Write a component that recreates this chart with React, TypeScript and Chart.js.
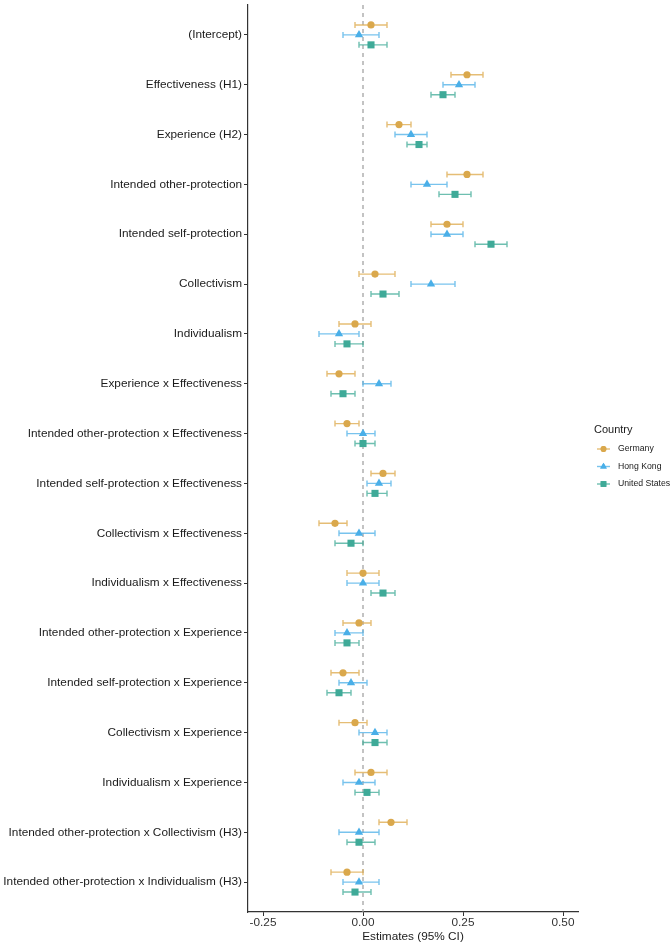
import React, { useEffect, useRef } from 'react';
import { Chart, registerables } from 'chart.js';
import { drawPoint } from 'chart.js/helpers';

Chart.register(...registerables);

const terms = [
  '(Intercept)',
  'Effectiveness (H1)',
  'Experience (H2)',
  'Intended other-protection',
  'Intended self-protection',
  'Collectivism',
  'Individualism',
  'Experience x Effectiveness',
  'Intended other-protection x Effectiveness',
  'Intended self-protection x Effectiveness',
  'Collectivism x Effectiveness',
  'Individualism x Effectiveness',
  'Intended other-protection x Experience',
  'Intended self-protection x Experience',
  'Collectivism x Experience',
  'Individualism x Experience',
  'Intended other-protection x Collectivism (H3)',
  'Intended other-protection x Individualism (H3)',
];

const countries = ['Germany', 'Hong Kong', 'United States'];

const germanyEst = [0.02, 0.26, 0.09, 0.26, 0.21, 0.03, -0.02, -0.06, -0.04, 0.05, -0.07, 0.0, -0.01, -0.05, -0.02, 0.02, 0.07, -0.04];
const germanyLo = [-0.02, 0.22, 0.06, 0.21, 0.17, -0.01, -0.06, -0.09, -0.07, 0.02, -0.11, -0.04, -0.05, -0.08, -0.06, -0.02, 0.04, -0.08];
const germanyHi = [0.06, 0.30, 0.12, 0.30, 0.25, 0.08, 0.02, -0.02, -0.01, 0.08, -0.04, 0.04, 0.02, -0.01, 0.01, 0.06, 0.11, 0.0];

const hongKongEst = [-0.01, 0.24, 0.12, 0.16, 0.21, 0.17, -0.06, 0.04, 0.0, 0.04, -0.01, 0.0, -0.04, -0.03, 0.03, -0.01, -0.01, -0.01];
const hongKongLo = [-0.05, 0.20, 0.08, 0.12, 0.17, 0.12, -0.11, 0.0, -0.04, 0.01, -0.06, -0.04, -0.07, -0.06, -0.01, -0.05, -0.06, -0.05];
const hongKongHi = [0.04, 0.28, 0.16, 0.21, 0.25, 0.23, -0.01, 0.07, 0.03, 0.07, 0.03, 0.04, 0.0, 0.01, 0.06, 0.03, 0.04, 0.04];

const usEst = [0.02, 0.20, 0.14, 0.23, 0.32, 0.05, -0.04, -0.05, 0.0, 0.03, -0.03, 0.05, -0.04, -0.06, 0.03, 0.01, -0.01, -0.02];
const usLo = [-0.01, 0.17, 0.11, 0.19, 0.28, 0.02, -0.07, -0.08, -0.02, 0.01, -0.07, 0.02, -0.07, -0.09, 0.0, -0.02, -0.04, -0.05];
const usHi = [0.06, 0.23, 0.16, 0.27, 0.36, 0.09, 0.0, -0.02, 0.03, 0.06, 0.0, 0.08, -0.01, -0.03, 0.06, 0.04, 0.03, 0.02];

const xTicks = [-0.25, 0, 0.25, 0.5];

const FONT = "'Liberation Sans', Arial, sans-serif";

const lineColors = ['rgba(222,172,82,0.8)', 'rgba(86,180,233,0.8)', 'rgba(62,170,150,0.75)'];
const pointColors = ['#DAA84C', '#4AAFE8', '#3FAA98'];
const pointStyles = ['circle', 'triangle', 'rect'];
const pointRadii = [3.6, 4.8, 5];
const offsets = [-0.2, 0, 0.2];

const errorBarPlugin = {
  id: 'errorBars',
  beforeDatasetsDraw(chart: any) {
    const { ctx, chartArea, scales } = chart;
    const xs = scales.x;
    ctx.save();
    ctx.strokeStyle = '#9c9c9c';
    ctx.lineWidth = 1.2;
    ctx.setLineDash([4, 4]);
    const x0 = xs.getPixelForValue(0);
    ctx.beginPath();
    ctx.moveTo(x0, chartArea.top);
    ctx.lineTo(x0, chartArea.bottom);
    ctx.stroke();
    ctx.setLineDash([]);
    chart.data.datasets.forEach((ds: any, di: number) => {
      const meta = chart.getDatasetMeta(di);
      ctx.strokeStyle = lineColors[di];
      ctx.lineWidth = 1.4;
      ds.data.forEach((d: any, j: number) => {
        const el = meta.data[j];
        const y = el.y;
        const xl = xs.getPixelForValue(d.lo);
        const xh = xs.getPixelForValue(d.hi);
        ctx.beginPath();
        ctx.moveTo(xl, y);
        ctx.lineTo(xh, y);
        ctx.moveTo(xl, y - 3);
        ctx.lineTo(xl, y + 3);
        ctx.moveTo(xh, y - 3);
        ctx.lineTo(xh, y + 3);
        ctx.stroke();
      });
    });
    ctx.restore();
  },
};

const legendPlugin = {
  id: 'countryLegend',
  afterDraw(chart: any) {
    const { ctx } = chart;
    ctx.save();
    ctx.fillStyle = '#1a1a1a';
    ctx.font = `11px ${FONT}`;
    ctx.textAlign = 'left';
    ctx.textBaseline = 'middle';
    ctx.fillText('Country', 594, 430);
    ctx.font = `8.7px ${FONT}`;
    chart.data.datasets.forEach((ds: any, di: number) => {
      const y = 449 + di * 17.5;
      ctx.strokeStyle = lineColors[di];
      ctx.lineWidth = 1.4;
      ctx.beginPath();
      ctx.moveTo(597, y);
      ctx.lineTo(610, y);
      ctx.stroke();
      ctx.fillStyle = pointColors[di];
      drawPoint(ctx, { pointStyle: pointStyles[di], radius: pointRadii[di] * 0.8, borderWidth: 0, rotation: 0 } as any, 603.5, y);
      ctx.fill();
      ctx.fillStyle = '#1a1a1a';
      ctx.fillText(ds.label, 618, y);
    });
    ctx.restore();
  },
};

export default function App() {
  const ref = useRef<HTMLCanvasElement>(null);

  useEffect(() => {
    if (!ref.current) return;
    const series = [
      [germanyEst, germanyLo, germanyHi],
      [hongKongEst, hongKongLo, hongKongHi],
      [usEst, usLo, usHi],
    ];
    const datasets = countries.map((c, di) => ({
      label: c,
      data: series[di][0].map((v, i) => ({ x: v, y: i + offsets[di], lo: series[di][1][i], hi: series[di][2][i] })),
      pointStyle: pointStyles[di],
      pointRadius: pointRadii[di],
      pointBackgroundColor: pointColors[di],
      pointBorderColor: pointColors[di],
      pointBorderWidth: 0,
      showLine: false,
    }));

    const chart = new Chart(ref.current, {
      type: 'scatter',
      data: { datasets },
      plugins: [errorBarPlugin, legendPlugin],
      options: {
        animation: false,
        responsive: false,
        events: [],
        layout: { padding: { top: 3, right: 94, left: 0, bottom: 0 } },
        plugins: { legend: { display: false }, tooltip: { enabled: false } },
        scales: {
          x: {
            type: 'linear',
            min: -0.2875,
            max: 0.5375,
            afterBuildTicks: (s: any) => {
              s.ticks = xTicks.map((v) => ({ value: v }));
            },
            afterFit: (s: any) => {
              s.height = 34;
              s.paddingLeft = 0;
              s.paddingRight = 0;
            },
            ticks: {
              font: { family: FONT, size: 11.8 },
              color: '#333333',
              padding: 0,
              maxRotation: 0,
              callback: (v: any) => Number(v).toFixed(2),
            },
            grid: { drawOnChartArea: false, drawTicks: true, tickLength: 4, color: '#333333', lineWidth: 1 },
            border: { display: true, color: '#333333', width: 1.2 },
            title: {
              display: true,
              text: 'Estimates (95% CI)',
              font: { family: FONT, size: 11.8 },
              color: '#1a1a1a',
              padding: { top: 0, bottom: 2.5 },
            },
          },
          y: {
            type: 'linear',
            min: -0.6,
            max: terms.length - 1 + 0.6,
            reverse: true,
            afterBuildTicks: (s: any) => {
              s.ticks = terms.map((_, i) => ({ value: i }));
            },
            afterFit: (s: any) => {
              s.width = 248;
              s.paddingTop = 0;
              s.paddingBottom = 0;
            },
            ticks: {
              font: { family: FONT, size: 11.8 },
              color: '#1a1a1a',
              padding: 2,
              autoSkip: false,
              callback: (v: any) => terms[Math.round(Number(v))] ?? '',
            },
            grid: { drawOnChartArea: false, drawTicks: true, tickLength: 4, color: '#333333', lineWidth: 1 },
            border: { display: true, color: '#333333', width: 1.2 },
          },
        },
      } as any,
    });
    return () => chart.destroy();
  }, []);

  return (
    <div style={{ position: 'fixed', left: 0, top: 0, width: 672, height: 946, background: '#ffffff' }}>
      <canvas ref={ref} width={672} height={946} style={{ width: 672, height: 946, display: 'block' }} />
    </div>
  );
}
